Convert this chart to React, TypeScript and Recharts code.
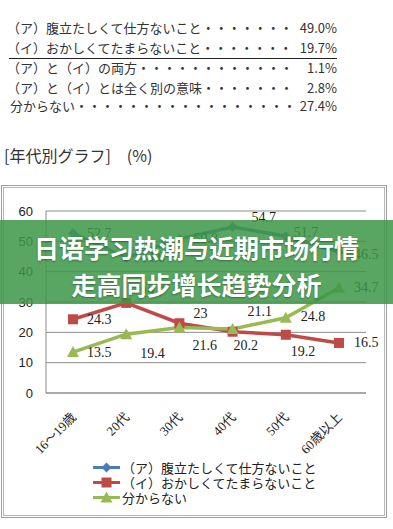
import { LineChart, Line, XAxis, YAxis, CartesianGrid, Legend, LabelList } from "recharts";

// survey summary (top table)
const surveyLabels = [
  "（ア）腹立たしくて仕方ないこと",
  "（イ）おかしくてたまらないこと",
  "（ア）と（イ）の両方",
  "（ア）と（イ）とは全く別の意味",
  "分からない",
];
const surveyDots = [7, 7, 12, 7, 17];
const surveyPercents = ["49.0%", "19.7%", "1.1%", "2.8%", "27.4%"];

// by age group
const ageGroups = ["16～19歳", "20代", "30代", "40代", "50代", "60歳以上"];
const angryValues = [52.7, 44.6, 50.8, 54.7, 51.7, 46.5];
const funnyValues = [24.3, 29.7, 23, 20.2, 19.2, 16.5];
const unknownValues = [13.5, 19.4, 21.6, 21.1, 24.8, 34.7];
const yTicks = [0, 10, 20, 30, 40, 50, 60];

const seriesNames = [
  "（ア）腹立たしくて仕方ないこと",
  "（イ）おかしくてたまらないこと",
  "分からない",
];
const colors = ["#4A7EBB", "#BE4B48", "#98B954"];

const data = ageGroups.map((name, i) => ({
  name,
  a: angryValues[i],
  b: funnyValues[i],
  c: unknownValues[i],
}));

// label nudges [dx, dy] from the point, like the excel placement
const labelShift: Record<string, number[][]> = {
  a: [[14, 0], [14, 0], [14, 0], [19, -10], [8, -4], [15, 3]],
  b: [[14, 0], [14, -10], [14, -10], [1, 14], [5, 17], [15, 0]],
  c: [[14, 0], [14, 19], [13, 18], [15, -17], [15, -1], [15, 0]],
};

const Marker = ({ cx, cy, kind, color }: any) => {
  if (kind === 0)
    return <path d={`M${cx},${cy - 5}L${cx + 5},${cy}L${cx},${cy + 5}L${cx - 5},${cy}Z`} fill={color} />;
  if (kind === 1) return <rect x={cx - 5} y={cy - 5} width={10} height={10} fill={color} />;
  return <path d={`M${cx},${cy - 6}L${cx + 6},${cy + 5}L${cx - 6},${cy + 5}Z`} fill={color} />;
};

const makeDot = (kind: number) => (p: any) =>
  <Marker key={`d${kind}-${p.index}`} cx={p.cx} cy={p.cy} kind={kind} color={colors[kind]} />;

const makeLabel = (key: string) => (p: any) => {
  const [dx, dy] = labelShift[key][p.index] || [14, 0];
  return (
    <text
      key={`l${key}-${p.index}`}
      x={p.x + dx}
      y={p.y + dy}
      dominantBaseline="central"
      fontFamily="'Liberation Serif', serif"
      fontSize={14}
      fill="#222"
    >
      {p.value}
    </text>
  );
};

const AgeTick = ({ x, y, payload }: any) => {
  const tx = x + 4;
  const ty = y + 17;
  return (
    <text
      x={tx}
      y={ty}
      transform={`rotate(-45 ${tx} ${ty})`}
      textAnchor="end"
      fontFamily="'Liberation Serif', 'Noto Sans CJK JP', serif"
      fontSize={13}
      fill="#222"
    >
      {payload.value}
    </text>
  );
};

const LegendBox = () => (
  <div style={{ fontFamily: "'Noto Sans CJK JP', sans-serif", fontSize: 13, color: "#222" }}>
    {seriesNames.map((n, i) => (
      <div key={n} style={{ display: "flex", alignItems: "center", height: 15 }}>
        <svg width={29} height={15}>
          <line x1={0} y1={7.5} x2={27} y2={7.5} stroke={colors[i]} strokeWidth={3} />
          <Marker cx={13.5} cy={7.5} kind={i} color={colors[i]} />
        </svg>
        <span style={{ lineHeight: "15px" }}>{n}</span>
      </div>
    ))}
  </div>
);

export default function App() {
  const centers = [28, 48, 68, 88, 106];
  return (
    <div
      style={{
        position: "absolute",
        left: 0,
        top: 0,
        width: 393,
        height: 529,
        background: "#fff",
        overflow: "hidden",
        fontFamily: "'Noto Sans CJK JP', sans-serif",
        color: "#333",
      }}
    >
      {surveyLabels.map((label, i) => (
        <div key={label}>
          <div
            style={{
              position: "absolute",
              left: i === 4 ? 10 : 7,
              top: centers[i] - 9,
              lineHeight: "18px",
              fontSize: 13,
              whiteSpace: "nowrap",
            }}
          >
            {label}
            {"・".repeat(surveyDots[i])}
          </div>
          <div
            style={{
              position: "absolute",
              left: 290,
              width: 47,
              top: centers[i] - 9,
              lineHeight: "18px",
              fontSize: 13,
              textAlign: "right",
            }}
          >
            {surveyPercents[i]}
          </div>
        </div>
      ))}
      <div style={{ position: "absolute", left: 9, top: 58, width: 328, height: 1, background: "#222" }} />

      <div style={{ position: "absolute", left: 4, top: 146, fontSize: 16, lineHeight: "18px", color: "#333" }}>
        [年代別グラフ]　(%)
      </div>

      <div style={{ position: "absolute", left: 1, top: 185, width: 384, height: 331, border: "1px solid #9c9c9c" }} />
      <div style={{ position: "absolute", left: 3, top: 187, width: 380, height: 327, border: "1px solid #b5b5b5" }} />

      <div style={{ position: "absolute", left: 0, top: 185 }}>
        <LineChart width={387} height={333} data={data} margin={{ top: 26, right: 21, left: 0, bottom: 0 }}>
          <CartesianGrid vertical={false} stroke="#8c8c8c" />
          <XAxis
            dataKey="name"
            height={125}
            stroke="#8c8c8c"
            tickLine={false}
            interval={0}
            padding={{ left: 27, right: 27 }}
            tick={<AgeTick />}
          />
          <YAxis
            width={46}
            domain={[0, 60]}
            ticks={yTicks}
            stroke="#8c8c8c"
            tickLine={false}
            tickMargin={7}
            tick={{ fill: "#222", fontSize: 13, fontFamily: "'Liberation Sans', sans-serif" }}
          />
          <Legend
            layout="vertical"
            verticalAlign="middle"
            align="center"
            content={<LegendBox />}
            wrapperStyle={{ top: 275, left: 93, width: 260 }}
          />
          {(["a", "b", "c"] as const).map((k, i) => (
            <Line
              key={k}
              dataKey={k}
              name={seriesNames[i]}
              stroke={colors[i]}
              strokeWidth={3.5}
              dot={makeDot(i)}
              activeDot={false}
              isAnimationActive={false}
            >
              <LabelList dataKey={k} content={makeLabel(k)} />
            </Line>
          ))}
        </LineChart>
      </div>

      <div
        style={{
          position: "absolute",
          left: 0,
          top: 220,
          width: 393,
          height: 84,
          background: "rgba(62,150,72,0.86)",
          color: "#fff",
          textAlign: "center",
          fontFamily: "'Noto Sans CJK SC', sans-serif",
          fontWeight: 700,
          fontSize: 25,
          lineHeight: "37px",
          paddingTop: 9,
          boxSizing: "border-box",
          textShadow: "0 1px 2px rgba(0,0,0,0.35)",
        }}
      >
        日语学习热潮与近期市场行情
        <br />
        走高同步增长趋势分析
      </div>
    </div>
  );
}
